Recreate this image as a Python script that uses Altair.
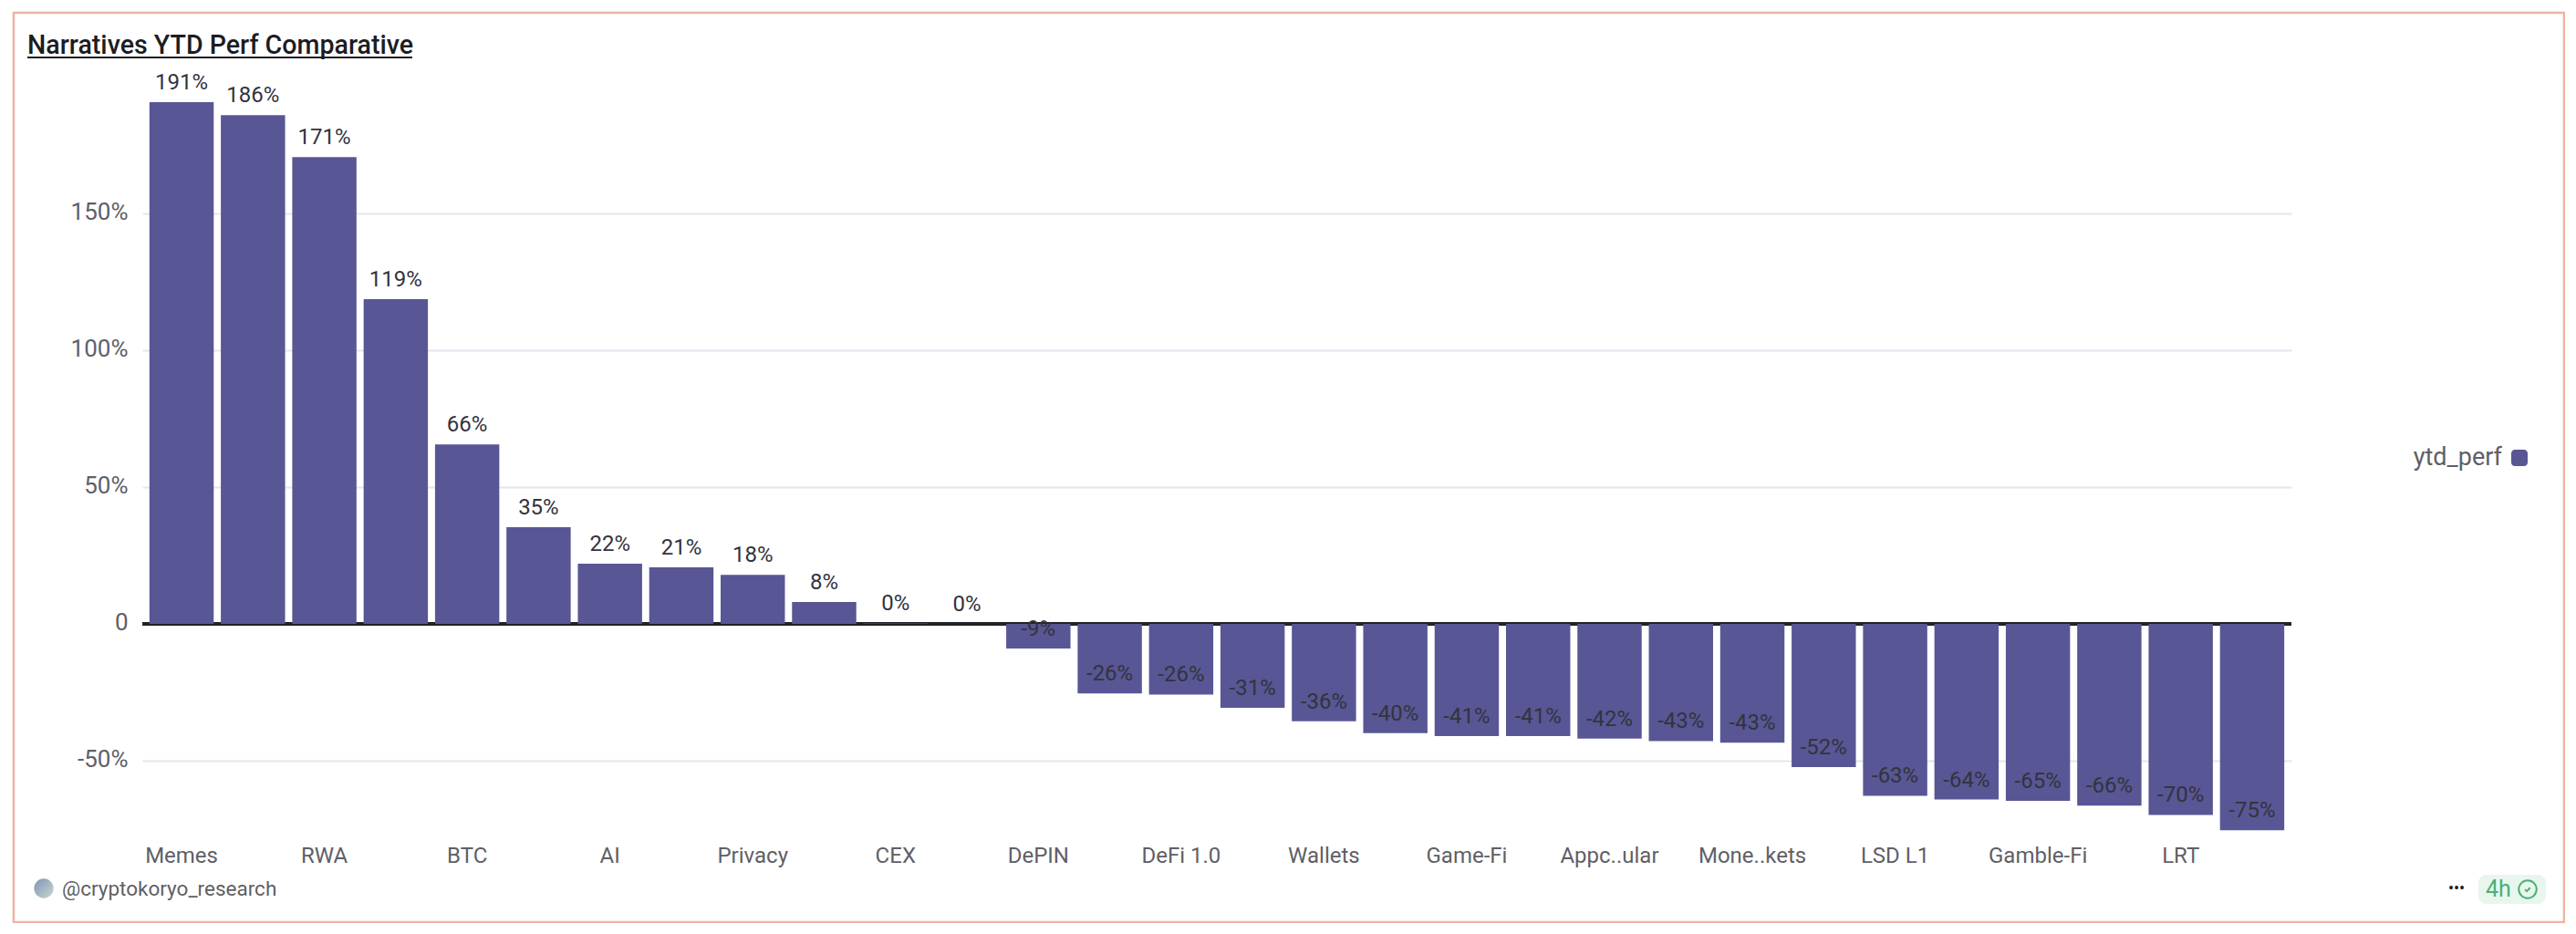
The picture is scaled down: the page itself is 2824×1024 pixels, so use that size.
import json
import altair as alt
import pandas as pd

tick_names = ["Memes", "RWA", "BTC", "AI", "Privacy", "CEX", "DePIN", "DeFi 1.0", "Wallets",
              "Game-Fi", "Appc..ular", "Mone..kets", "LSD L1", "Gamble-Fi", "LRT"]
ytd_perf = [190.7, 185.9, 170.6, 118.7, 65.6, 35.3, 22.0, 20.7, 17.9, 8.0, 0.2, 0.0, -9.0, -25.4, -25.8,
            -30.7, -35.6, -39.9, -41.0, -41.0, -41.9, -42.8, -43.4, -52.3, -62.8, -64.2, -64.7, -66.4, -69.8, -75.4]
bar_labels = ["191%", "186%", "171%", "119%", "66%", "35%", "22%", "21%", "18%", "8%", "0%", "0%", "-9%", "-26%", "-26%",
              "-31%", "-36%", "-40%", "-41%", "-41%", "-42%", "-43%", "-43%", "-52%", "-63%", "-64%", "-65%", "-66%", "-70%", "-75%"]
y_ticks = [-50, 0, 50, 100, 150]

FONT = "Roboto"
OX, OY = 156, 108   # page position of the plot origin
BAR = "#585694"

df = pd.DataFrame({"rank": list(range(len(ytd_perf))), "perf": ytd_perf, "label": bar_labels})
x_values = list(range(0, 2 * len(tick_names), 2))
label_expr = json.dumps(tick_names) + "[datum.value / 2]"

x = alt.X("rank:O", title=None,
          scale=alt.Scale(paddingInner=0.1, paddingOuter=0.1),
          axis=alt.Axis(values=x_values, labelExpr=label_expr, labelAngle=0, ticks=False, domain=False,
                        grid=False, labelFont=FONT, labelFontSize=24, labelColor="#5f5f66", labelPadding=26,
                        labelOverlap=False, labelBaseline="middle"))
y_scale = alt.Scale(domain=[-76, 192], nice=False)
y_axis = alt.Axis(values=y_ticks, labelExpr="datum.value === 0 ? '0' : datum.value + '%'",
                  ticks=False, domain=False, grid=True, gridColor="#e6e5ee", gridWidth=2, gridOpacity=1,
                  labelFont=FONT, labelFontSize=26, labelColor="#5f5f66", labelPadding=16, labelOffset=-2)

zero = alt.Chart(df).transform_calculate(zero_line="0").mark_rule(color="#222228", strokeWidth=2.5).encode(
    y=alt.Y("zero_line:Q", axis=y_axis, title=None, scale=y_scale))
bars = alt.Chart(df).mark_bar(color=BAR).encode(x=x, y=alt.Y("perf:Q", title=None, axis=y_axis, scale=y_scale), y2=alt.datum(0))
texts = alt.Chart(df).mark_text(font=FONT, fontSize=24, color="#33333d", dy=-21, baseline="middle").encode(
    x=alt.X("rank:O"), y=alt.Y("perf:Q"), text="label:N")


def px(v):
    return alt.value(v - OX)


def py(v):
    return alt.value(v - OY)


def note(txt, left, mid, **kw):
    return alt.Chart(df.head(1)).mark_text(text=txt, font=FONT, baseline="middle", **kw).encode(x=px(left), y=py(mid))


def box(x0, x1, y0, y1, **kw):
    return alt.Chart(df.head(1)).mark_rect(**kw).encode(x=px(x0), x2=px(x1), y=py(y0), y2=py(y1))


frame = box(15, 2811, 14, 1011, fillOpacity=0, fill="#ffffff", stroke="#eeb3a3", strokeWidth=2.5)
title = note("Narratives YTD Perf Comparative", 30, 50, align="left", fontSize=28.6, fontWeight=500, color="#1c1c22")
title_line = box(30, 452, 62, 64, fill="#1c1c22")
legend_text = note("ytd_perf", 2743, 502, align="right", fontSize=27, color="#5f5f66")
legend_box = box(2753, 2771, 493, 511, fill=BAR, cornerRadius=4)
avatar = alt.Chart(df.head(1)).mark_circle(
    size=452, opacity=1,
    color=alt.Gradient(gradient="linear", x1=0, y1=0, x2=1, y2=1,
                       stops=[alt.GradientStop(offset=0, color="#7f95b3"),
                              alt.GradientStop(offset=1, color="#c8d6d2")])
).encode(x=px(48), y=py(974))
handle = note("@cryptokoryo_research", 68, 975, align="left", fontSize=22.5, color="#5f5f66")
dots = note("•••", 2693, 975, align="center", fontSize=18, color="#1c1c22")
badge = box(2717, 2791, 959, 991, fill="#e8f6ee", cornerRadius=9)
age = note("4h", 2725, 975, align="left", fontSize=25, color="#4cb070")
ring = alt.Chart(df.head(1)).mark_point(shape="circle", size=380, filled=False, color="#4cb070", strokeWidth=2, opacity=1).encode(x=px(2771), y=py(975))
tick = alt.Chart(df.head(1)).mark_point(shape="M-1,0.1L-0.3,0.7L0.9,-0.6", size=36, filled=False, color="#4cb070", strokeWidth=2, opacity=1).encode(x=px(2771), y=py(975))

chart = alt.layer(
    frame, zero, bars, texts, title, title_line, legend_text, legend_box,
    avatar, handle, dots, badge, age, ring, tick
).properties(
    width=2356, height=804,
    autosize=alt.AutoSizeParams(type="none"),
    padding={"left": 148, "top": 100, "right": 300, "bottom": 100},
    background="white",
).configure_view(stroke=None).configure_axis(labelFont=FONT)

chart.save("out.html", embed_options={"renderer": "svg", "actions": False})
